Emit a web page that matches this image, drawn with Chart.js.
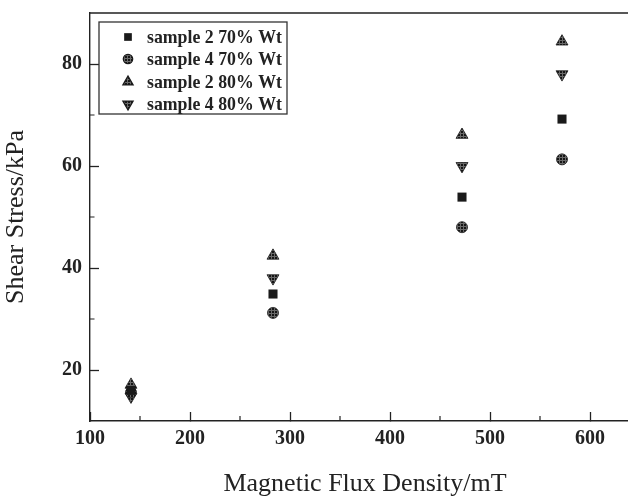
<!DOCTYPE html>
<html>
<head>
<meta charset="utf-8">
<script src="https://cdn.jsdelivr.net/npm/chart.js@4"></script>
<style>
  html, body { margin: 0; padding: 0; background: #fff; overflow: hidden; }
  #wrap { width: 700px; height: 500px; }
</style>
</head>
<body>
<div id="wrap"><canvas id="chart" width="700" height="500"></canvas></div>
<script>
  // magnetic flux density (mT) for each measurement group
  const fluxDensity = [141, 283, 472, 572];

  // shear stress (kPa) per sample
  const sample2_70 = [16.0, 34.9, 53.9, 69.2];
  const sample4_70 = [15.6, 31.2, 48.0, 61.3];
  const sample2_80 = [17.1, 42.4, 66.1, 84.4];
  const sample4_80 = [14.8, 38.0, 60.0, 78.0];

  const seriesLabels = ["sample 2 70% Wt", "sample 4 70% Wt", "sample 2 80% Wt", "sample 4 80% Wt"];

  const xTicks = [100, 200, 300, 400, 500, 600];
  const xMinorTicks = [150, 250, 350, 450, 550, 650];
  const yTicks = [20, 40, 60, 80];
  const yMinorTicks = [30, 50, 70];

  const ink = "#222";
  const serif = "'Liberation Serif', 'Times New Roman', serif";

  // dark fill with thin light grid lines, like the hatched markers
  function hatch() {
    const c = document.createElement("canvas");
    c.width = 3;
    c.height = 3;
    const g = c.getContext("2d");
    g.fillStyle = "#161616";
    g.fillRect(0, 0, 3, 3);
    g.fillStyle = "#6a6a6a";
    g.fillRect(1, 0, 1, 3);
    g.fillRect(0, 1, 3, 1);
    return g.createPattern(c, "repeat");
  }
  const hatchFill = hatch();

  function pts(ys) {
    return fluxDensity.map((x, i) => ({ x: x, y: ys[i] }));
  }

  const datasets = [
    { label: seriesLabels[0], data: pts(sample2_70), pointStyle: "rect", pointRadius: 6.4, rotation: 0,
      backgroundColor: "#1a1a1a", borderColor: "#1a1a1a", borderWidth: 0 },
    { label: seriesLabels[1], data: pts(sample4_70), pointStyle: "circle", pointRadius: 5.5, rotation: 0,
      backgroundColor: hatchFill, borderColor: "#1a1a1a", borderWidth: 0.8 },
    { label: seriesLabels[2], data: pts(sample2_80), pointStyle: "triangle", pointRadius: 6.9, rotation: 0,
      backgroundColor: hatchFill, borderColor: "#1a1a1a", borderWidth: 0.8 },
    { label: seriesLabels[3], data: pts(sample4_80), pointStyle: "triangle", pointRadius: 6.9, rotation: 180,
      backgroundColor: hatchFill, borderColor: "#1a1a1a", borderWidth: 0.8 },
  ];

  const framePlugin = {
    id: "frame",
    afterDraw(chart) {
      const ctx = chart.ctx;
      const area = chart.chartArea;
      const xs = chart.scales.x;
      const ys = chart.scales.y;
      ctx.save();
      ctx.strokeStyle = ink;
      ctx.lineWidth = 1.4;
      ctx.beginPath();
      ctx.moveTo(area.left, area.top);
      ctx.lineTo(area.right, area.top);
      ctx.lineTo(area.right, area.bottom);
      ctx.stroke();

      // minor ticks, pointing inward
      ctx.lineWidth = 1.2;
      ctx.beginPath();
      xMinorTicks.forEach((v) => {
        const px = xs.getPixelForValue(v);
        ctx.moveTo(px, area.bottom);
        ctx.lineTo(px, area.bottom - 5);
      });
      yMinorTicks.forEach((v) => {
        const py = ys.getPixelForValue(v);
        ctx.moveTo(area.left, py);
        ctx.lineTo(area.left + 4.5, py);
      });
      ctx.stroke();

      // legend box inside the plot
      const box = { left: 99, top: 22, right: 287, bottom: 114 };
      ctx.lineWidth = 1.3;
      ctx.strokeStyle = "#333";
      ctx.strokeRect(box.left, box.top, box.right - box.left, box.bottom - box.top);
      const rowY = [37, 59, 82, 104];
      ctx.font = "bold 17.8px " + serif;
      ctx.textBaseline = "middle";
      ctx.textAlign = "left";
      chart.data.datasets.forEach((ds, i) => {
        ctx.fillStyle = ds.backgroundColor;
        ctx.strokeStyle = ds.borderColor;
        Chart.helpers.drawPoint(ctx, {
          pointStyle: ds.pointStyle,
          rotation: ds.rotation,
          radius: ds.pointRadius * 0.85,
          borderWidth: ds.borderWidth,
        }, 128, rowY[i]);
        ctx.fillStyle = ink;
        ctx.fillText(ds.label, 147, rowY[i] + 1);
      });
      ctx.restore();
    },
  };

  new Chart(document.getElementById("chart"), {
    type: "scatter",
    data: { datasets: datasets },
    options: {
      responsive: false,
      animation: false,
      layout: { padding: { top: 13, right: 60, left: 0, bottom: 0 } },
      plugins: {
        legend: { display: false },
        tooltip: { enabled: false },
      },
      scales: {
        x: {
          type: "linear",
          min: 100,
          max: 650,
          afterBuildTicks: (s) => { s.ticks = xTicks.map((v) => ({ value: v })); },
          afterFit: (s) => { s.height = 79; s.paddingLeft = 0; s.paddingRight = 0; },
          grid: { drawOnChartArea: false, drawTicks: true, tickLength: -9, tickWidth: 1.3, tickColor: ink },
          border: { display: true, color: ink, width: 1.4 },
          ticks: {
            padding: 15,
            color: ink,
            maxRotation: 0,
            font: { family: serif, size: 20, weight: "bold", lineHeight: 1.2 },
          },
          title: {
            display: true,
            text: "Magnetic Flux Density/mT",
            color: ink,
            padding: { top: 0, bottom: 0 },
            font: { family: serif, size: 26, lineHeight: 1.2 },
          },
        },
        y: {
          type: "linear",
          min: 10,
          max: 90,
          afterBuildTicks: (s) => { s.ticks = yTicks.map((v) => ({ value: v })); },
          afterFit: (s) => { s.width = 90; s.paddingTop = 0; s.paddingBottom = 0; },
          grid: { drawOnChartArea: false, drawTicks: true, tickLength: -9, tickWidth: 1.3, tickColor: ink },
          border: { display: true, color: ink, width: 1.4 },
          ticks: {
            padding: 17,
            color: ink,
            font: { family: serif, size: 20, weight: "bold", lineHeight: 1.2 },
          },
          title: {
            display: true,
            text: "Shear Stress/kPa",
            color: ink,
            padding: { top: 1, bottom: 0 },
            font: { family: serif, size: 26, lineHeight: 1.2 },
          },
        },
      },
    },
    plugins: [framePlugin],
  });
</script>
</body>
</html>
